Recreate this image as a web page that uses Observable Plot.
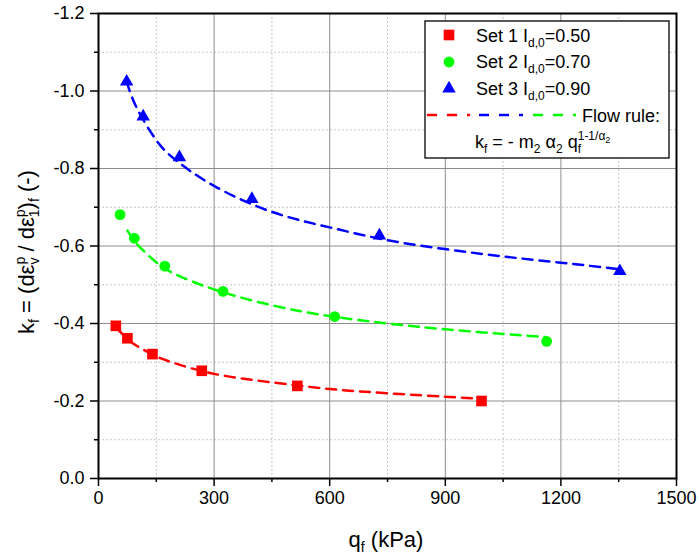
<!DOCTYPE html>
<html><head><meta charset="utf-8">
<script src="https://cdn.jsdelivr.net/npm/d3@7"></script>
<script src="https://cdn.jsdelivr.net/npm/@observablehq/plot@0.6"></script>
<style>html,body{margin:0;padding:0;background:#fff} svg{display:block}</style>
</head><body><div id="chart"></div>
<script>
// ---- data ----
const set1Q = [45, 75, 140, 268, 516, 994];
const set1K = [-0.394, -0.362, -0.321, -0.278, -0.239, -0.200];
const set2Q = [56, 93, 172, 323, 613, 1163];
const set2K = [-0.681, -0.620, -0.548, -0.483, -0.418, -0.354];
const set3Q = [73, 116, 210, 398, 729, 1353];
const set3K = [-1.024, -0.934, -0.829, -0.721, -0.627, -0.535];

// flow-rule curves
const fit1Q = [50, 75, 100, 150, 200, 300, 450, 600, 750, 900, 990];
const fit1K = [-0.385, -0.360, -0.342, -0.315, -0.297, -0.270, -0.248, -0.231, -0.220, -0.211, -0.206];
const fit2Q = [75, 100, 150, 200, 300, 450, 600, 750, 900, 1050, 1160];
const fit2K = [-0.640, -0.605, -0.558, -0.527, -0.488, -0.447, -0.419, -0.400, -0.385, -0.373, -0.365];
const fit3Q = [73, 100, 150, 200, 300, 450, 600, 750, 900, 1050, 1200, 1353];
const fit3K = [-1.024, -0.955, -0.873, -0.822, -0.755, -0.688, -0.648, -0.615, -0.592, -0.573, -0.557, -0.540];

const seriesLabels = ["Set 1", "Set 2", "Set 3"];
const seriesId = ["0.50", "0.70", "0.90"];

const xMajor = [0, 300, 600, 900, 1200, 1500];
const xMinor = [150, 450, 750, 1050, 1350];
const yMajor = [0, -0.2, -0.4, -0.6, -0.8, -1.0, -1.2];
const yMinor = [-0.1, -0.3, -0.5, -0.7, -0.9, -1.1];

// ---- styling ----
const FONT = "'Liberation Sans', Arial, Helvetica, sans-serif";
const colors = ["#ff0000", "#00ff00", "#0000ff"];
const symbols = ["square", "circle", "triangle"];
const radii = [6.0, 5.4, 5.0];
const dash = "10,7";

const pts = (q, k) => q.map((d, i) => ({q: d, k: k[i]}));
const sets = [pts(set1Q, set1K), pts(set2Q, set2K), pts(set3Q, set3K)];
const fits = [pts(fit1Q, fit1K), pts(fit2Q, fit2K), pts(fit3Q, fit3K)];

const marks = [
  Plot.gridX({ticks: xMinor, stroke: "#c6c6c6", strokeOpacity: 1, strokeDasharray: "2,2"}),
  Plot.gridY({ticks: yMinor, stroke: "#c6c6c6", strokeOpacity: 1, strokeDasharray: "2,2"}),
  Plot.gridX({ticks: xMajor, stroke: "#8e8e8e", strokeOpacity: 1}),
  Plot.gridY({ticks: yMajor, stroke: "#8e8e8e", strokeOpacity: 1}),
  Plot.axisX({ticks: xMajor, tickSize: 8, tickPadding: 5, fontSize: 18, label: null, tickFormat: d => String(d), strokeWidth: 1.5}),
  Plot.axisX({ticks: xMinor, tickSize: 4, tickPadding: 0, label: null, tickFormat: () => "", strokeWidth: 1.5}),
  Plot.axisY({ticks: yMajor, tickSize: 8, tickPadding: 6, fontSize: 18, label: null, tickFormat: d => d.toFixed(1), strokeWidth: 1.5}),
  Plot.axisY({ticks: yMinor, tickSize: 4, tickPadding: 0, label: null, tickFormat: () => "", strokeWidth: 1.5})
];
fits.forEach((f, i) => marks.push(Plot.line(f, {x: "q", y: "k", stroke: colors[i], strokeWidth: 2.5, strokeDasharray: dash, curve: "natural"})));
sets.forEach((s, i) => marks.push(Plot.dot(s, {x: "q", y: "k", fill: colors[i], symbol: symbols[i], r: radii[i], stroke: "none"})));
marks.push(Plot.frame({stroke: "black", strokeWidth: 2}));

const chart = Plot.plot({
  width: 699, height: 558,
  marginLeft: 98, marginRight: 23, marginTop: 13, marginBottom: 80,
  style: {fontFamily: FONT, background: "white", color: "black"},
  x: {domain: [0, 1500]},
  y: {domain: [0, -1.2]},
  marks
});
document.getElementById("chart").appendChild(chart);

// ---- axis titles with sub/superscripts ----
const svg = d3.select(chart);
const xl = svg.append("text").attr("x", 386).attr("y", 547).attr("text-anchor", "middle")
  .attr("font-family", FONT).attr("font-size", 22).attr("fill", "black");
xl.append("tspan").text("q");
xl.append("tspan").attr("font-size", 14).attr("dy", 5).text("f");
xl.append("tspan").attr("dy", -5).text(" (kPa)");

const yl = svg.append("text").attr("transform", "translate(34,252) rotate(-90)").attr("text-anchor", "middle")
  .attr("font-family", FONT).attr("font-size", 22).attr("fill", "black");
yl.append("tspan").text("k");
yl.append("tspan").attr("font-size", 14).attr("dy", 5).text("f");
yl.append("tspan").attr("dy", -5).text(" = (dε");
yl.append("tspan").attr("font-size", 14).attr("dy", -9).text("p");
yl.append("tspan").attr("font-size", 14).attr("dx", -7.8).attr("dy", 14).text("v");
yl.append("tspan").attr("dy", -5).text(" / dε");
yl.append("tspan").attr("font-size", 14).attr("dy", -9).text("p");
yl.append("tspan").attr("font-size", 14).attr("dx", -7.8).attr("dy", 14).text("1");
yl.append("tspan").attr("dy", -5).text(")");
yl.append("tspan").attr("font-size", 14).attr("dy", 5).text("f");
yl.append("tspan").attr("dy", -5).text(" (-)");

// ---- legend ----
const lg = svg.append("g").attr("font-family", FONT).attr("fill", "black").attr("text-anchor", "start");
lg.append("rect").attr("x", 425).attr("y", 21).attr("width", 244).attr("height", 137)
  .attr("fill", "white").attr("stroke", "black").attr("stroke-width", 1.3);
const d3sym = {square: d3.symbolSquare, circle: d3.symbolCircle, triangle: d3.symbolTriangle};
const rowY = [41.7, 68.3, 95.2];
const symY = [35, 62, 88.5];
seriesLabels.forEach((lab, i) => {
  lg.append("path").attr("transform", `translate(449,${symY[i]})`)
    .attr("d", d3.symbol(d3sym[symbols[i]], radii[i] * radii[i] * Math.PI)())
    .attr("fill", colors[i]);
  const t = lg.append("text").attr("x", 476).attr("y", rowY[i]).attr("font-size", 18).attr("text-anchor", "start");
  t.append("tspan").text(lab + " I");
  t.append("tspan").attr("font-size", 12).attr("dy", 5).text("d,0");
  t.append("tspan").attr("dy", -5).text("=" + seriesId[i]);
});
[[427, 470, 0], [479, 523, 2], [533, 576, 1]].forEach(([a, b, c]) => {
  lg.append("line").attr("x1", a).attr("x2", b).attr("y1", 115).attr("y2", 115)
    .attr("stroke", colors[c]).attr("stroke-width", 2.5).attr("stroke-dasharray", "10,10");
});
lg.append("text").attr("x", 582).attr("y", 121.5).attr("font-size", 18).attr("text-anchor", "start").text("Flow rule:");
const fm = lg.append("text").attr("x", 475).attr("y", 148.3).attr("font-size", 18).attr("text-anchor", "start");
fm.append("tspan").text("k");
fm.append("tspan").attr("font-size", 12).attr("dy", 5).text("f");
fm.append("tspan").attr("dy", -5).text(" = - m");
fm.append("tspan").attr("font-size", 12).attr("dy", 5).text("2");
fm.append("tspan").attr("dy", -5).text(" α");
fm.append("tspan").attr("font-size", 12).attr("dy", 5).text("2");
fm.append("tspan").attr("dy", -5).text(" q");
fm.append("tspan").attr("font-size", 12).attr("dy", 5).text("f");
fm.append("tspan").attr("font-size", 12).attr("dx", -3.3).attr("dy", -13).text("1-1/α");
fm.append("tspan").attr("font-size", 9).attr("dy", 3).text("2");
</script></body></html>
